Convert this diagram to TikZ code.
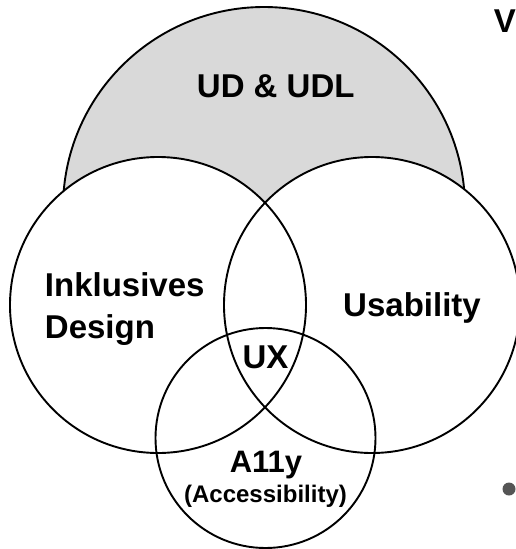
\documentclass[tikz,border=0pt]{standalone}
\usepackage{fontspec}
\setmainfont{Liberation Sans}
\definecolor{udgray}{HTML}{D9D9D9}
\definecolor{dotgray}{HTML}{555555}
\begin{document}
\begin{tikzpicture}[x=1pt,y=-1pt,line width=1.9pt,
  lbl/.style={font=\fontsize{33}{40}\selectfont\bfseries,inner sep=0pt},
  sublbl/.style={font=\fontsize{24}{28}\selectfont\bfseries,inner sep=0pt}]
\useasboundingbox (0,0) rectangle (516,549);
% circles
\coordinate (cud) at (264,208);
\coordinate (cid) at (158,305);
\coordinate (cus) at (372,305);
\coordinate (ca) at (265.5,438);
\fill[udgray] (cud) circle (201pt);
\draw (cud) circle (201pt);
\fill[white] (cid) circle (148pt);
\fill[white] (cus) circle (148pt);
\fill[white] (ca) circle (110pt);
\draw (cid) circle (148pt);
\draw (cus) circle (148pt);
\draw (ca) circle (110pt);
% labels
\node[lbl,anchor=base west] (udl) at (196,97) {UD \& UDL};
\node[lbl,anchor=base west] (inkl) at (44,296) {Inklusives};
\node[lbl,anchor=base west] (des) at (44,338) {Design};
\node[lbl,anchor=base] (usa) at (412,316) {Usability};
\node[lbl,anchor=base] (ux) at (265.5,368) {UX};
\node[lbl,anchor=base,font=\fontsize{31}{36}\selectfont\bfseries] (ally) at (266,472) {A11y};
\node[sublbl,anchor=base] (acc) at (265.5,502) {(Accessibility)};
\node[lbl,anchor=base west] (v) at (493,32) {V};
\fill[dotgray] (509,489) circle (6.5pt);
\end{tikzpicture}
\end{document}
